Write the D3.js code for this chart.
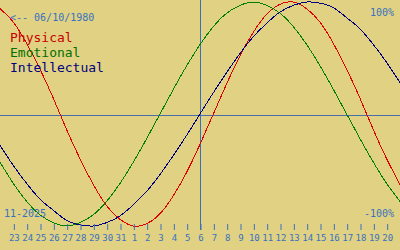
<!DOCTYPE html>
<html>
<head>
<meta charset="utf-8">
<script src="https://cdn.jsdelivr.net/npm/d3@7"></script>
<style>
  html, body { margin: 0; padding: 0; background: #e0d282; }
  svg { display: block; }
  text { font-family: "DejaVu Sans Mono", monospace; }
</style>
</head>
<body>
<div id="chart"></div>
<script>
// biorhythm chart - one point per day, 22 Oct .. 21 Nov 2025 (today = 6 Nov)
const days = [22, 23, 24, 25, 26, 27, 28, 29, 30, 31,
              1, 2, 3, 4, 5, 6, 7, 8, 9, 10, 11, 12, 13, 14, 15, 16, 17, 18, 19, 20, 21];
const todayIndex = 15;

// values in %
const physical = [94, 82, 63, 40, 14, -14, -40, -63, -82, -94,
                  -100, -98, -89, -73, -52, -27, 0, 27, 52, 73,
                  89, 98, 100, 94, 82, 63, 40, 14, -14, -40, -63];
const emotional = [-43, -62, -78, -90, -97, -100, -97, -90, -78, -62,
                   -43, -22, 0, 22, 43, 62, 78, 90, 97, 100,
                   97, 90, 78, 62, 43, 22, 0, -22, -43, -62, -78];
const intellectual = [-28, -46, -62, -76, -86, -95, -99, -100, -97, -91,
                      -81, -69, -54, -37, -19, 0, 19, 37, 54, 69,
                      81, 91, 97, 100, 99, 95, 86, 76, 62, 46, 28];

const series = [
    { name: 'Physical',     values: physical,     color: '#e00000', text: '#c80000' },
    { name: 'Emotional',    values: emotional,    color: '#008000', text: '#007000' },
    { name: 'Intellectual', values: intellectual, color: '#000080', text: '#000080' }
];

const birthLabel = '<-- 06/10/1980';
const monthLabel = '11-2025';

const width = 400, height = 250;
const blu = '#3a70c0';

const svg = d3.select('#chart').append('svg')
    .attr('width', width)
    .attr('height', height);

svg.append('rect')
    .attr('width', width).attr('height', height)
    .attr('fill', '#e0d282');

const x = d3.scaleLinear().domain([0, days.length - 1]).range([0, width]);
const y = d3.scaleLinear().domain([-100, 100]).range([226, 2]);

// linea dello zero
svg.append('line')
    .attr('x1', 0).attr('x2', width)
    .attr('y1', 115.5).attr('y2', 115.5)
    .attr('stroke', '#4a6ea8')
    .attr('stroke-width', 1);

// oggi
svg.append('line')
    .attr('x1', x(todayIndex) + 0.5).attr('x2', x(todayIndex) + 0.5)
    .attr('y1', 0).attr('y2', 230)
    .attr('stroke', blu)
    .attr('stroke-width', 1);

// curve
const line = d3.line()
    .x((d, i) => x(i))
    .y(d => y(d))
    .curve(d3.curveNatural);

svg.append('g').selectAll('path')
    .data(series)
    .join('path')
    .attr('d', d => line(d.values))
    .attr('fill', 'none')
    .attr('stroke', d => d.color)
    .attr('stroke-width', 1)
    .attr('shape-rendering', 'crispEdges');

// asse dei giorni (tranne i due estremi)
const tickIdx = d3.range(1, days.length - 1);
const axis = d3.axisBottom(x)
    .tickValues(tickIdx)
    .tickSize(6)
    .tickFormat(i => days[i]);

const gAxis = svg.append('g')
    .attr('transform', 'translate(0.5,224)')
    .call(axis);
gAxis.select('.domain').remove();
gAxis.selectAll('.tick line').attr('stroke', blu);
gAxis.selectAll('.tick text')
    .attr('fill', blu)
    .attr('y', 17)
    .attr('dy', 0)
    .style('font-size', '9px')
    .style('font-family', '"DejaVu Sans Mono", monospace');

// testi
svg.append('text')
    .attr('x', 10).attr('y', 21)
    .attr('fill', blu)
    .style('font-size', '10px')
    .text(birthLabel);

svg.append('g').selectAll('text')
    .data(series)
    .join('text')
    .attr('x', 10)
    .attr('y', (d, i) => 42 + i * 15)
    .attr('fill', d => d.text)
    .style('font-size', '13px')
    .text(d => d.name);

svg.append('text')
    .attr('x', 394).attr('y', 16)
    .attr('text-anchor', 'end')
    .attr('fill', blu)
    .style('font-size', '10px')
    .text('100%');

svg.append('text')
    .attr('x', 394).attr('y', 217)
    .attr('text-anchor', 'end')
    .attr('fill', blu)
    .style('font-size', '10px')
    .text('-100%');

svg.append('text')
    .attr('x', 4).attr('y', 217)
    .attr('fill', blu)
    .style('font-size', '10px')
    .text(monthLabel);
</script>
</body>
</html>
